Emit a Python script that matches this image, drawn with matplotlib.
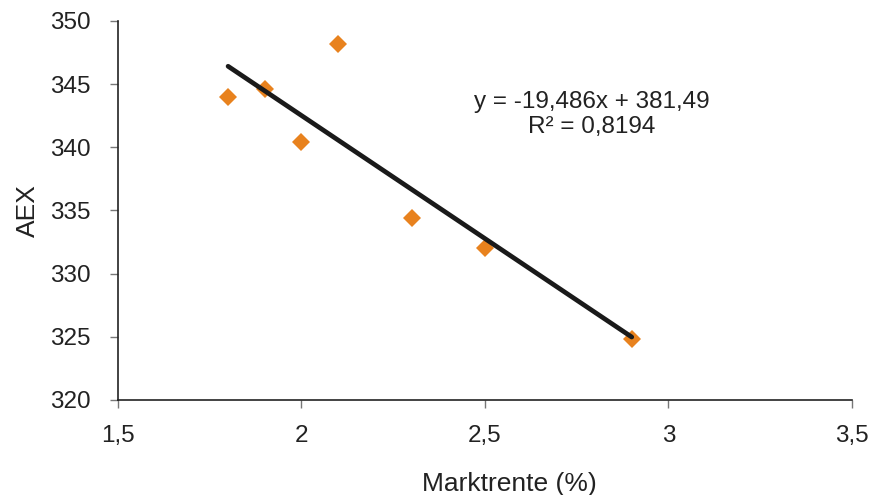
import numpy as np
import matplotlib.pyplot as plt
import matplotlib

font = {'family': ['Liberation Sans', 'DejaVu Sans'], 'size': 17.5}
matplotlib.rc('font', **font)

# Data
marktrente = [1.8, 1.9, 2.0, 2.1, 2.3, 2.5, 2.9]
aex = [344.0, 344.6, 340.4, 348.2, 334.4, 332.0, 324.8]

# Trendline as shown in the chart
slope = -19.486
intercept = 381.49
r_squared = 0.8194

x_ticks = [1.5, 2.0, 2.5, 3.0, 3.5]
x_labels = ['1,5', '2', '2,5', '3', '3,5']
y_ticks = [320, 325, 330, 335, 340, 345, 350]

fig = plt.figure(figsize=(8.72, 4.95), dpi=100)
ax = fig.add_axes([0.1353, 0.192, 0.8417, 0.7656])

ax.plot(marktrente, aex, ls='none', marker='D', markersize=9,
        color='#e8821e', markeredgewidth=0, zorder=2)

x_fit = np.array([min(marktrente), max(marktrente)])
ax.plot(x_fit, slope * x_fit + intercept, lw=3.4, color='#1a1a1a',
        solid_capstyle='round', zorder=3)

eq = 'y = %sx + %s' % (('%.3f' % slope).replace('.', ','),
                        ('%.2f' % intercept).replace('.', ','))
r2 = 'R² = %s' % ('%.4f' % r_squared).replace('.', ',')
ax.text(2.79, 342.6, eq + '\n' + r2, ha='center', va='center',
        color='#222222', linespacing=1.15)

ax.set_xlim(1.5, 3.5)
ax.set_ylim(320, 350)
ax.set_xticks(x_ticks)
ax.set_xticklabels(x_labels)
ax.set_yticks(y_ticks)

for s in ['top', 'right']:
    ax.spines[s].set_visible(False)
for s in ['left', 'bottom']:
    ax.spines[s].set_color('#222222')
    ax.spines[s].set_linewidth(1.2)

ax.tick_params(direction='out', length=6, width=1, color='#777777',
               labelcolor='#222222')
ax.tick_params(axis='x', pad=12)
ax.tick_params(axis='y', pad=14)

ax.set_xlabel('Marktrente (%)', fontsize=19, color='#222222')
ax.xaxis.set_label_coords(0.533, -0.19)
ax.set_ylabel('AEX', fontsize=19, labelpad=7, color='#222222')

plt.savefig('out.png', dpi=100)
